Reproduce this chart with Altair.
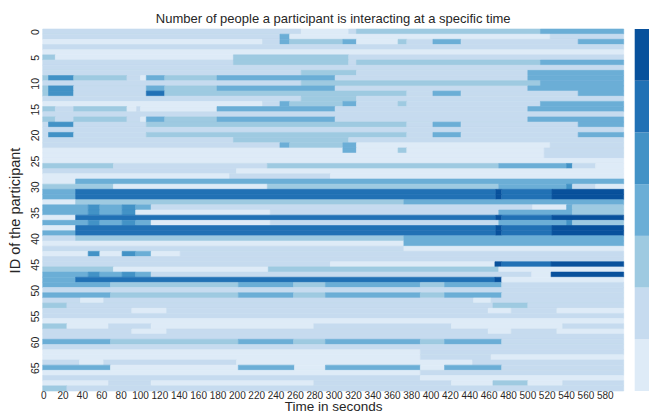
import altair as alt
import pandas as pd

# colour levels (number of people), lightest to darkest
LEVELS = [0, 1, 2, 3, 4, 5, 6]
LEVEL_COLORS = ["#deebf7", "#c6dbef", "#9ecae1", "#6baed6", "#4292c6", "#2171b5", "#08519c"]

T_END = 600
X_TICKS = list(range(0, 600, 20))
Y_TICKS = list(range(0, 70, 5))

# one list per participant: (start second, level) change points
ROW_SEGS = [
    [(0, 1), (267, 0), (316, 1), (324, 2), (514, 3)],
    [(0, 1), (245, 3), (255, 0), (524, 1)],
    [(0, 0), (227, 1), (245, 3), (255, 2), (310, 3), (324, 0), (367, 2), (376, 1), (403, 3), (432, 1), (553, 3)],
    [(0, 1)],
    [(0, 0)],
    [(0, 2), (13, 0), (197, 2), (316, 1)],
    [(0, 1), (197, 2), (316, 1), (324, 2), (514, 3)],
    [(0, 1)],
    [(0, 1), (267, 2), (324, 1), (501, 3)],
    [(0, 2), (6, 4), (32, 2), (87, 1), (101, 0), (107, 3), (126, 2), (180, 3), (302, 1), (501, 3)],
    [(0, 1), (267, 2), (514, 3)],
    [(0, 2), (6, 4), (32, 1), (107, 3), (126, 2), (180, 3), (302, 1), (501, 3)],
    [(0, 2), (6, 4), (32, 1), (107, 5), (126, 2), (376, 1), (403, 3), (432, 1), (553, 3)],
    [(0, 1), (267, 2), (324, 1)],
    [(0, 0), (227, 1), (245, 3), (255, 2), (310, 3), (324, 1), (367, 2), (376, 1), (514, 3)],
    [(0, 2), (13, 1), (32, 2), (87, 0), (97, 1), (101, 0), (180, 3), (302, 1), (501, 3)],
    [(0, 1)],
    [(0, 2), (13, 1), (32, 2), (87, 1), (101, 0), (107, 3), (126, 2), (180, 3), (302, 1), (501, 3)],
    [(0, 1), (6, 4), (32, 1), (107, 2), (376, 1), (403, 3), (432, 1), (553, 3)],
    [(0, 1)],
    [(0, 1), (6, 4), (32, 1), (107, 2), (376, 1), (403, 3), (432, 1), (553, 3)],
    [(0, 1), (197, 2), (316, 1)],
    [(0, 1), (245, 3), (255, 2), (310, 3), (324, 0), (524, 1)],
    [(0, 0), (310, 3), (324, 0), (367, 2), (376, 0), (518, 1)],
    [(0, 0), (518, 1)],
    [(0, 0)],
    [(0, 2), (73, 1), (232, 2), (471, 3), (541, 4), (547, 1), (571, 0)],
    [(0, 1), (200, 0)],
    [(0, 0), (193, 1), (297, 0)],
    [(0, 0), (34, 3)],
    [(0, 2), (73, 0), (232, 2), (471, 3), (541, 4), (547, 1), (571, 0)],
    [(0, 3), (34, 5), (468, 6), (474, 5), (526, 6)],
    [(0, 3), (34, 5), (468, 6), (474, 5), (526, 6)],
    [(0, 0), (34, 2), (373, 3)],
    [(0, 3), (47, 4), (59, 3), (82, 4), (96, 3), (112, 1), (506, 0), (541, 3), (547, 2)],
    [(0, 3), (47, 4), (59, 3), (82, 4), (96, 0), (235, 1), (471, 3), (547, 2)],
    [(0, 0), (34, 5), (468, 6), (474, 5), (526, 6)],
    [(0, 3), (47, 4), (59, 3), (82, 4), (96, 3), (112, 0), (235, 1), (471, 3), (541, 4), (547, 2)],
    [(0, 0), (34, 5), (468, 6), (474, 5), (526, 6)],
    [(0, 3), (34, 5), (468, 6), (474, 5), (526, 6)],
    [(0, 1), (34, 2), (373, 3)],
    [(0, 0), (373, 3)],
    [(0, 1), (373, 0)],
    [(0, 0), (47, 4), (59, 0), (82, 4), (96, 3), (112, 0), (142, 1)],
    [(0, 1)],
    [(0, 1), (297, 0), (467, 6), (474, 5), (525, 6)],
    [(0, 2), (73, 0), (233, 2), (471, 0)],
    [(0, 3), (47, 4), (59, 3), (82, 4), (96, 3), (112, 1), (505, 0), (525, 6)],
    [(0, 3), (34, 5), (467, 6), (474, 0)],
    [(0, 3), (70, 2), (202, 3), (259, 2), (292, 3), (390, 2), (415, 3), (474, 1)],
    [(0, 1)],
    [(0, 3), (70, 2), (202, 3), (259, 2), (292, 3), (390, 2), (415, 3), (474, 1)],
    [(0, 1), (39, 0), (63, 1), (445, 0), (463, 1)],
    [(0, 2), (25, 1), (465, 2), (501, 1)],
    [(0, 1), (92, 0), (128, 1), (460, 0), (484, 1), (531, 0)],
    [(0, 1)],
    [(0, 0)],
    [(0, 2), (25, 0), (68, 1), (112, 0), (280, 1), (422, 0), (537, 1)],
    [(0, 1), (92, 0), (128, 1), (460, 0), (484, 1), (531, 0)],
    [(0, 1)],
    [(0, 3), (70, 2), (202, 3), (259, 2), (292, 3), (390, 2), (415, 3), (474, 1)],
    [(0, 1)],
    [(0, 0), (390, 1)],
    [(0, 0), (390, 1), (463, 0)],
    [(0, 1), (38, 0), (63, 1), (200, 0), (444, 1)],
    [(0, 3), (70, 0), (202, 3), (260, 0), (292, 3), (390, 0), (415, 3), (474, 1)],
    [(0, 0), (390, 1)],
    [(0, 1), (390, 0)],
    [(0, 0), (68, 1), (112, 0), (280, 1), (422, 0), (465, 2), (501, 0), (537, 1)],
    [(0, 2), (25, 1)],
]

TITLE = "Number of people a participant is interacting at a specific time"
X_TITLE = "Time in seconds"
Y_TITLE = "ID of the participant"
FONT = "Liberation Sans"
TEXT_COLOR = "#262626"

records = []
for pid, segs in enumerate(ROW_SEGS):
    for i, (start, level) in enumerate(segs):
        end = segs[i + 1][0] if i + 1 < len(segs) else T_END
        records.append({"pid": pid, "pid2": pid + 1, "start": start, "end": end, "level": level})
df = pd.DataFrame(records)

bar_df = pd.DataFrame({"level": LEVELS, "x0": 0, "x1": 1})

color_scale = alt.Scale(domain=LEVELS, range=LEVEL_COLORS)

heat = alt.Chart(df).mark_rect(strokeWidth=0.6).encode(
    x=alt.X(
        "start:Q",
        scale=alt.Scale(domain=[0, T_END], nice=False, zero=False),
        axis=alt.Axis(
            values=[v + 0.5 for v in X_TICKS],
            labelExpr="floor(datum.value)",
            title=X_TITLE,
            ticks=False, tickSize=0, domain=False, grid=False,
            labelBaseline="alphabetic", labelPadding=7.5,
            labelFontSize=10, labelFont=FONT, labelColor=TEXT_COLOR,
            labelOverlap=False, labelFlush=False,
            titleFont=FONT, titleFontSize=13.5, titleFontWeight="normal", titleColor=TEXT_COLOR,
            titleBaseline="alphabetic", titleY=19.3,
        ),
    ),
    x2="end:Q",
    y=alt.Y(
        "pid:Q",
        scale=alt.Scale(domain=[0, 70], reverse=True, nice=False, zero=False),
        axis=alt.Axis(
            values=[v + 0.5 for v in Y_TICKS],
            labelExpr="floor(datum.value)",
            title=Y_TITLE,
            ticks=False, tickSize=0, domain=False, grid=False,
            labelAngle=270, labelAlign="center", labelBaseline="alphabetic",
            labelPadding=4, labelFontSize=10.5, labelFont=FONT, labelColor=TEXT_COLOR,
            labelOverlap=False, labelFlush=False,
            titleFont=FONT, titleFontSize=14.5, titleFontWeight="normal", titleColor=TEXT_COLOR,
            titleAngle=270, titleBaseline="alphabetic", titleAlign="center",
            titleX=-23, titleY=181,
        ),
    ),
    y2="pid2:Q",
    color=alt.Color("level:O", scale=color_scale, legend=None),
    stroke=alt.Stroke("level:O", scale=color_scale, legend=None),
)

cbar = alt.Chart(bar_df).mark_rect().encode(
    x=alt.X("x0:Q", scale=alt.Scale(domain=[0, 1], range=[592, 606.3]), axis=None),
    x2="x1:Q",
    y=alt.Y("level:O", scale=alt.Scale(domain=LEVELS[::-1], paddingInner=0, paddingOuter=0), axis=None),
    color=alt.Color("level:O", scale=color_scale, legend=None),
)

chart = alt.layer(heat, cbar).resolve_scale(x="independent", y="independent").properties(
    width=581,
    height=362,
    padding={"left": 34.7, "top": 21, "right": 25.3, "bottom": 20},
    autosize=alt.AutoSizeParams(type="none"),
    title=alt.TitleParams(
        TITLE, font=FONT, fontSize=13, fontWeight="normal", color=TEXT_COLOR,
        anchor="middle", baseline="alphabetic", offset=8, dy=15.5,
    ),
).configure_view(stroke=None)

chart.save("out.html", embed_options={"renderer": "svg", "actions": False})
